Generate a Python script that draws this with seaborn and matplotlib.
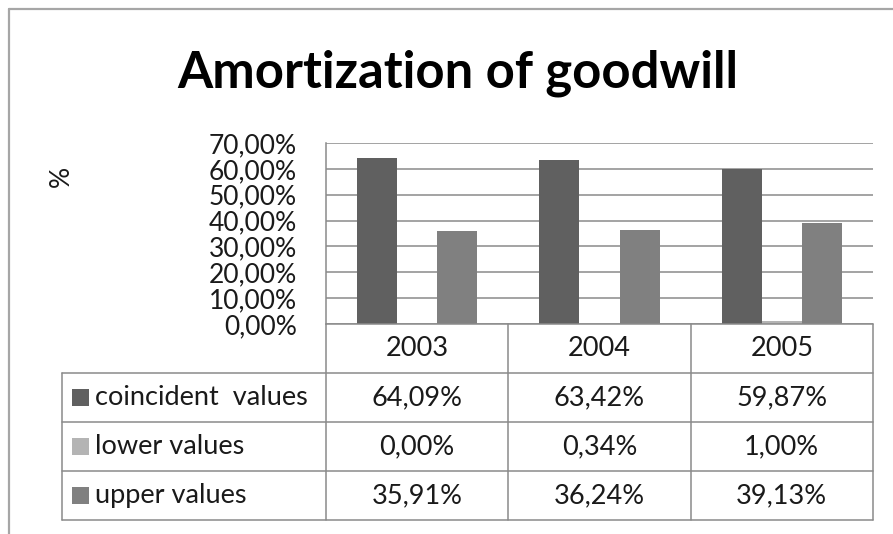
import matplotlib
matplotlib.use("Agg")
import matplotlib.pyplot as plt
import matplotlib.transforms as mtransforms
from matplotlib.lines import Line2D
from matplotlib.patches import Rectangle
import seaborn as sns
import pandas as pd

# ---- data ----
years = ["2003", "2004", "2005"]
series = ["coincident  values", "lower values", "upper values"]
coincident = [64.09, 63.42, 59.87]
lower = [0.00, 0.34, 1.00]
upper = [35.91, 36.24, 39.13]
y_ticks = [0, 10, 20, 30, 40, 50, 60, 70]
colors = ["#606060", "#b4b4b4", "#808080"]
title = "Amortization of goodwill"
y_label = "%"

values = [coincident, lower, upper]
df = pd.DataFrame({
    "year": years * len(series),
    "series": [s for s in series for _ in years],
    "value": coincident + lower + upper,
})

def pct(v):
    return f"{v:.2f}%".replace(".", ",")

sns.set_theme(style="white")
plt.rcParams["font.family"] = ["Lato", "DejaVu Sans"]

W, H = 893, 534
fig = plt.figure(figsize=(W / 100, H / 100), dpi=100)
fig.patch.set_facecolor("white")

def fx(x):
    return x / W

def fy(y):
    return 1 - y / H

grid_c = "#8a8a8a"
text_c = "#1a1a1a"
lw = 1.1
tick_fs = 19
tab_fs = 19.5

ax = fig.add_axes([fx(326), fy(324), fx(873) - fx(326), fy(143) - fy(324)])
sns.barplot(data=df, x="year", y="value", hue="series", hue_order=series,
            palette=colors, width=0.66, gap=0, saturation=1, linewidth=0,
            legend=False, ax=ax)
ax.set_xlim(-0.5, len(years) - 0.5)
ax.set_ylim(0, 70)
ax.set_yticks(y_ticks)
ax.set_yticklabels([pct(v) for v in y_ticks], fontsize=tick_fs, color=text_c)
ax.tick_params(axis="y", length=0, pad=21)
ax.tick_params(axis="x", length=0, labelbottom=False)
ax.set_xlabel("")
ax.set_ylabel("")
ax.yaxis.grid(True, color=grid_c, linewidth=lw)
ax.set_axisbelow(True)
for s in ["top", "right", "bottom"]:
    ax.spines[s].set_visible(False)
ax.spines["left"].set_color(grid_c)
ax.spines["left"].set_linewidth(lw)

fig.text(fx(61), fy(176), y_label, rotation=90, ha="center", va="center",
         fontsize=tick_fs, color=text_c)
fig.text(fx(458), fy(73), title, ha="center", va="center",
         fontsize=36.5, weight="bold", color="black")

# ---- data table ----
blend = mtransforms.blended_transform_factory(ax.transData, fig.transFigure)
row_tops = [324, 373, 422, 471, 520]
x_left_px = 62
bounds = [i - 0.5 for i in range(len(years) + 1)]

def fline(xs, ys, transform=fig.transFigure):
    fig.add_artist(Line2D(xs, ys, color=grid_c, linewidth=lw,
                          transform=transform, clip_on=False))

# horizontal lines
fline([bounds[0], bounds[-1]], [fy(row_tops[0])] * 2, transform=blend)
for r in row_tops[1:]:
    fline([fx(x_left_px), fx(873)], [fy(r)] * 2)
# vertical lines
for b in bounds:
    fline([b, b], [fy(row_tops[0]), fy(row_tops[-1])], transform=blend)
fline([fx(x_left_px)] * 2, [fy(row_tops[1]), fy(row_tops[-1])])

# header
hc = (row_tops[0] + row_tops[1]) / 2
for i, yr in enumerate(years):
    fig.text(i, fy(hc), yr, transform=blend, ha="center", va="center",
             fontsize=tab_fs, color=text_c)

# rows
for j, (name, vals, c) in enumerate(zip(series, values, colors)):
    yc = (row_tops[j + 1] + row_tops[j + 2]) / 2
    fig.add_artist(Rectangle((fx(72), fy(yc + 8.5)), fx(17), 17 / H,
                             transform=fig.transFigure, facecolor=c,
                             edgecolor="none"))
    fig.text(fx(95), fy(yc), name, ha="left", va="center",
             fontsize=tab_fs, color=text_c)
    for i, v in enumerate(vals):
        fig.text(i, fy(yc), pct(v), transform=blend, ha="center",
                 va="center", fontsize=tab_fs, color=text_c)

# outer chart border
border_c = "#a6a6a6"
fig.add_artist(Line2D([fx(9), fx(9)], [fy(9), 0], color=border_c, linewidth=1.6,
                      transform=fig.transFigure))
fig.add_artist(Line2D([fx(9), 1], [fy(9), fy(9)], color=border_c, linewidth=1.6,
                      transform=fig.transFigure))

fig.savefig("out.png", dpi=100)
